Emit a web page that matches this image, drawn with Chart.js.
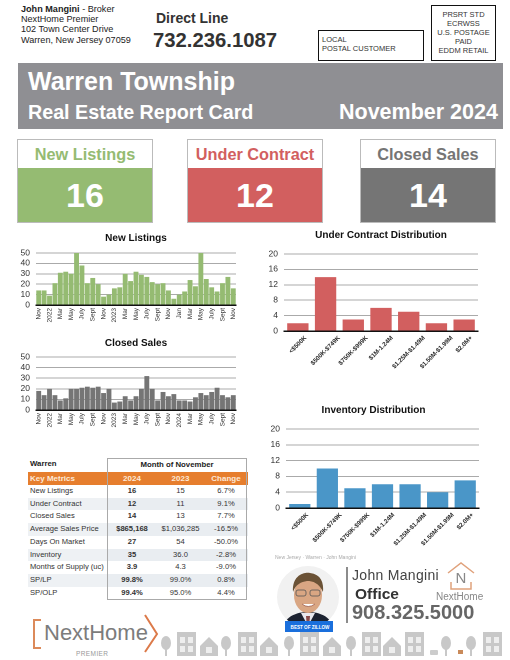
<!doctype html>
<html>
	<head>
		<meta charset="utf-8" />
		<title>Warren Township Real Estate Report Card</title>
		<script src="https://cdn.jsdelivr.net/npm/chart.js@4"></script>
		<style>
			html,
			body {
				margin: 0;
				padding: 0;
				background: #fff;
			}
			body {
				position: relative;
				width: 510px;
				height: 660px;
				overflow: hidden;
				font-family: "Liberation Sans", Arial, sans-serif;
				color: #222;
			}
			.abs,
			canvas {
				position: absolute;
			}
			.nowrap {
				white-space: nowrap;
			}
			.postal {
				border: 1px solid #111;
				box-sizing: border-box;
				font-size: 7.5px;
				line-height: 9px;
				color: #333;
			}
			.tile {
				box-sizing: border-box;
				width: 136px;
				height: 84px;
				top: 139px;
				border: 1px solid #bbb;
				text-align: center;
			}
			.tile .name {
				height: 28px;
				line-height: 28px;
				font-size: 16.3px;
				font-weight: bold;
				background: #fff;
			}
			.tile .num {
				height: 54px;
				line-height: 54px;
				font-size: 34px;
				font-weight: bold;
				color: #fff;
			}
			#metrics {
				left: 28px;
				width: 220px;
				border-collapse: collapse;
				table-layout: fixed;
				font-size: 7.6px;
				color: #333;
			}
			#metrics td {
				padding: 0;
				height: 12.7px;
				line-height: 12.7px;
				text-align: center;
				white-space: nowrap;
			}
			#metrics td:first-child {
				text-align: left;
				padding-left: 2px;
			}
			#metrics td.now {
				font-weight: bold;
			}
			#metrics tr.alt td {
				background: #e9edf1;
			}
			#metrics tr.alt td:first-child {
				background: #eef1f4;
			}
			#metrics tr.head td {
				background: #e67e2e;
				color: #fde9d8;
				font-weight: bold;
				height: 13px;
				line-height: 13px;
				font-size: 8px;
			}
			#tableBox {
				left: 107px;
				top: 458px;
				width: 140px;
				height: 142px;
				border: 1px solid #aaa;
				box-sizing: border-box;
			}
		</style>
	</head>

	<body>
		<!-- header -->
		<div class="abs nowrap" style="left: 21px; top: 4px; font-size: 9.1px; line-height: 10.2px; color: #222">
			<b>John Mangini</b> - Broker<br />NextHome Premier<br />102 Town Center Drive<br />Warren, New Jersey 07059
		</div>
		<div class="abs nowrap" style="left: 156px; top: 10px; font-size: 14px; font-weight: bold; color: #333">Direct Line</div>
		<div class="abs nowrap" style="left: 153px; top: 29px; font-size: 20.3px; font-weight: bold; color: #333">732.236.1087</div>
		<div class="abs postal nowrap" style="left: 318px; top: 30px; width: 106px; height: 31px; padding: 4px 3px">LOCAL<br />POSTAL CUSTOMER</div>
		<div class="abs postal nowrap" style="left: 431px; top: 5px; width: 65px; height: 56px; padding-top: 4px; text-align: center">PRSRT STD<br />ECRWSS<br />U.S. POSTAGE<br />PAID<br />EDDM RETAIL</div>

		<div class="abs" style="left: 18px; top: 63px; width: 485px; height: 66px; background: #8f8f93"></div>
		<div class="abs nowrap" style="left: 28px; top: 67px; font-size: 25px; font-weight: bold; color: #fff">Warren Township</div>
		<div class="abs nowrap" style="left: 28px; top: 101px; font-size: 19.7px; font-weight: bold; color: #fff">Real Estate Report Card</div>
		<div class="abs nowrap" style="left: 339px; top: 100px; font-size: 21.5px; font-weight: bold; color: #fff">November 2024</div>

		<!-- tiles -->
		<div class="abs tile" style="left: 17px"><div class="name" style="color: #95bb72">New Listings</div><div class="num" style="background: #95bb72">16</div></div>
		<div class="abs tile" style="left: 187px"><div class="name" style="color: #d25f5f">Under Contract</div><div class="num" style="background: #d25f5f">12</div></div>
		<div class="abs tile" style="left: 360px"><div class="name" style="color: #757575">Closed Sales</div><div class="num" style="background: #757575">14</div></div>

		<!-- charts -->
		<canvas id="newListingsChart" style="left: 10px; top: 230px" width="240" height="100"></canvas>
		<canvas id="closedSalesChart" style="left: 10px; top: 335px" width="240" height="100"></canvas>
		<canvas id="underContractChart" style="left: 255px; top: 227px" width="246" height="154"></canvas>
		<canvas id="inventoryChart" style="left: 255px; top: 402px" width="236" height="156"></canvas>

		<!-- metrics table -->
		<div class="abs nowrap" style="left: 30px; top: 459px; font-size: 7.8px; font-weight: bold">Warren</div>
		<div class="abs nowrap" style="left: 107px; top: 460px; width: 140px; text-align: center; font-size: 7.8px; font-weight: bold">Month of November</div>
		<table id="metrics" class="abs" style="top: 472px"></table>
		<div id="tableBox" class="abs"></div>

		<!-- agent block -->
		<div class="abs nowrap" style="left: 275px; top: 554px; font-size: 5px; color: #aaa">New Jersey &middot; Warren &middot; John Mangini</div>
		<svg class="abs" style="left: 277px; top: 566px" width="62" height="68" viewBox="0 0 62 68">
			<defs><clipPath id="photoClip"><circle cx="31" cy="31" r="31" /></clipPath></defs>
			<circle cx="31" cy="31" r="31" fill="#f1f1f1" />
			<g clip-path="url(#photoClip)">
				<path d="M6 62 C8 50 20 46 31 46 C42 46 54 50 56 62 Z" fill="#1c2230" />
				<path d="M24 47 L31 60 L38 47 Z" fill="#e8e8ee" />
				<path d="M29 50 L33 50 L32 62 L30 62 Z" fill="#8a4a4a" />
				<ellipse cx="31" cy="29" rx="14" ry="18" fill="#d9a683" />
				<path d="M16 26 C15 10 26 6 33 7 C44 8 47 17 46 26 C42 17 36 15 30 15 C24 16 19 18 16 26 Z" fill="#6b5236" />
				<rect x="19" y="24" width="10" height="6" rx="2" fill="none" stroke="#555" stroke-width="0.8" />
				<rect x="33" y="24" width="10" height="6" rx="2" fill="none" stroke="#555" stroke-width="0.8" />
				<path d="M25 38 Q31 43 38 38" fill="#fff" stroke="#9a5a4a" stroke-width="0.8" />
			</g>
			<rect x="8" y="55" width="48" height="11" fill="#1a6fdc" />
			<text x="33" y="62.5" font-size="4.6" font-weight="bold" fill="#fff" text-anchor="middle">BEST OF ZILLOW</text>
		</svg>
		<div class="abs" style="left: 346px; top: 567px; width: 2px; height: 56px; background: #8c8c8c"></div>
		<div class="abs nowrap" style="left: 352px; top: 567px; font-size: 14px; font-weight: 500; color: #444; letter-spacing: 0.3px">John Mangini</div>
		<div class="abs nowrap" style="left: 355px; top: 585px; font-size: 15.5px; font-weight: bold; color: #333">Office</div>
		<div class="abs nowrap" style="left: 352px; top: 601px; font-size: 20px; font-weight: bold; color: #666">908.325.5000</div>
		<svg class="abs" style="left: 445px; top: 560px" width="32" height="32" viewBox="0 0 32 32">
			<path d="M3 13 L16 3 L29 13" fill="none" stroke="#e0a27c" stroke-width="1.5" />
			<path d="M6 22 V29 H26 V22" fill="none" stroke="#e0a27c" stroke-width="1.5" />
			<text x="16" y="23" font-size="15" fill="#888" text-anchor="middle">N</text>
		</svg>
		<div class="abs nowrap" style="left: 436px; top: 591px; font-size: 10px; color: #888">NextHome</div>

		<!-- bottom logo -->
		<svg class="abs" style="left: 28px; top: 612px" width="135" height="42" viewBox="0 0 135 42">
			<path d="M13 8 H6 V36 H13" fill="none" stroke="#dc8a5a" stroke-width="2" />
			<path d="M117 3 L129 22 L117 40" fill="none" stroke="#dc7a4a" stroke-width="2" />
		</svg>
		<div class="abs nowrap" style="left: 44px; top: 620px; font-size: 22px; color: #7c7c7c">NextHome</div>
		<div class="abs nowrap" style="left: 76px; top: 650px; font-size: 6.5px; color: #999; letter-spacing: 0.4px">PREMIER</div>
		<svg id="street" class="abs" style="left: 160px; top: 630px" width="345" height="26"></svg>

		<script>
			const monthLabels = [
				"Nov", "Dec", "2022", "Feb", "Mar", "Apr", "May", "June", "July", "Aug", "Sept", "Oct",
				"Nov", "Dec", "2023", "Feb", "Mar", "Apr", "May", "June", "July", "Aug", "Sept", "Oct",
				"Nov", "Dec", "Jan", "Feb", "Mar", "Apr", "May", "June", "July", "Aug", "Sept", "Oct", "Nov",
			];
			const closedMonthLabels = monthLabels.map((m, i) => (i === 26 ? "2024" : m));
			const newListings = [
				14, 14, 9, 21, 31, 32, 30, 50, 38, 21, 26, 20, 8, 10, 16, 17, 30, 23, 32,
				29, 27, 22, 20, 21, 14, 6, 10, 13, 24, 18, 50, 25, 17, 13, 21, 27, 16,
			];
			const closedSales = [
				18, 14, 20, 14, 9, 11, 20, 20, 21, 22, 21, 22, 16, 20, 7, 8, 13, 9, 13,
				20, 32, 20, 9, 17, 13, 15, 9, 9, 8, 12, 16, 14, 17, 21, 14, 12, 14,
			];
			const priceBands = [
				"<$500K", "$500K-$749K", "$750K-$999K", "$1M-1.24M",
				"$1.25M-$1.49M", "$1.50M-$1.99M", "$2.0M+",
			];
			const underContract = [2, 14, 3, 6, 5, 2, 3];
			const inventory = [1, 10, 5, 6, 6, 4, 7];

			const metricNames = [
				"New Listings", "Under Contract", "Closed Sales", "Average Sales Price", "Days On Market",
				"Inventory", "Months of Supply (uc)", "SP/LP", "SP/OLP",
			];
			const metrics2024 = ["16", "12", "14", "$865,168", "27", "35", "3.9", "99.8%", "99.4%"];
			const metrics2023 = ["15", "11", "13", "$1,036,285", "54", "36.0", "4.3", "99.0%", "95.0%"];
			const metricsChange = ["6.7%", "9.1%", "7.7%", "-16.5%", "-50.0%", "-2.8%", "-9.0%", "0.8%", "4.4%"];

			// the slanted price labels sit centred under their bars, which chart.js ticks can't do
			const centeredLabels = {
				id: "centeredLabels",
				afterDraw(chart, args, opts) {
					if (!opts.on) return;
					const { ctx } = chart;
					const xScale = chart.scales.x;
					const slant = Math.SQRT1_2;
					ctx.save();
					ctx.font = "bold 6.2px 'Liberation Sans'";
					ctx.fillStyle = "#2a2a2a";
					ctx.textAlign = "center";
					ctx.textBaseline = "middle";
					chart.data.labels.forEach((label, i) => {
						const half = (ctx.measureText(label).width / 2) * slant;
						ctx.save();
						ctx.translate(xScale.getPixelForValue(i), xScale.top + 6 + half);
						ctx.rotate(-Math.PI / 4);
						ctx.fillText(label, 0, 0);
						ctx.restore();
					});
					ctx.restore();
				},
			};

			// fixed axis sizes so the plot areas land where they do in the print layout
			function barChart(id, cfg) {
				return new Chart(document.getElementById(id), {
					type: "bar",
					plugins: [centeredLabels],
					data: {
						labels: cfg.labels,
						datasets: [
							{
								data: cfg.values,
								backgroundColor: cfg.color,
								barPercentage: cfg.barPct,
								categoryPercentage: 1,
							},
						],
					},
					options: {
						responsive: false,
						animation: false,
						devicePixelRatio: 2,
						layout: { padding: { left: cfg.leftPad, right: cfg.rightPad } },
						plugins: {
							legend: { display: false },
							tooltip: { enabled: false },
							centeredLabels: { on: cfg.rotation === 45 },
							title: {
								display: true,
								text: cfg.title,
								fullSize: cfg.fullTitle,
								color: "#111",
								font: { family: "Liberation Sans", size: 10, weight: "bold" },
								padding: { top: 2, bottom: cfg.titleGap },
							},
						},
						scales: {
							x: {
								grid: { display: false, drawTicks: false },
								border: { color: "#111", width: 1.5 },
								afterFit: (s) => {
									s.height = cfg.xHeight;
								},
								ticks: {
									display: cfg.rotation === 90,
									autoSkip: false,
									minRotation: 90,
									maxRotation: 90,
									padding: 3,
									color: "#333",
									font: { family: "Liberation Sans", size: 6.5 },
									callback: function (v, i) {
										return i % 2 === 0 ? this.getLabelForValue(v) : "";
									},
								},
							},
							y: {
								min: 0,
								max: cfg.max,
								grid: { color: "#aaa", drawTicks: false },
								border: { display: false },
								afterFit: (s) => {
									s.width = cfg.yWidth;
								},
								ticks: {
									autoSkip: false,
									stepSize: cfg.step,
									padding: 6,
									color: "#333",
									font: { family: "Liberation Sans", size: 8.5 },
								},
							},
						},
					},
				});
			}

			const monthly = { rotation: 90, fullTitle: false, xHeight: 25, max: 50, step: 10, barPct: 0.9, leftPad: 0, yWidth: 26, rightPad: 14 };
			const bands = { rotation: 45, xHeight: 50, max: 20, step: 4, barPct: 0.77 };

			barChart("newListingsChart", { ...monthly, title: "New Listings", labels: monthLabels, values: newListings, color: "#95bb72", titleGap: 9 });
			barChart("closedSalesChart", { ...monthly, title: "Closed Sales", labels: closedMonthLabels, values: closedSales, color: "#757575", titleGap: 8 });
			barChart("underContractChart", { ...bands, fullTitle: false, leftPad: 0, yWidth: 29, rightPad: 23, title: "Under Contract Distribution", labels: priceBands, values: underContract, color: "#d25f5f", titleGap: 13 });
			// this title sits left of the plot centre by half the y axis width
			barChart("inventoryChart", { ...bands, fullTitle: true, leftPad: 13, yWidth: 18, rightPad: 12, title: "Inventory Distribution", labels: priceBands, values: inventory, color: "#4a96c8", titleGap: 13 });

			// metrics table
			const table = document.getElementById("metrics");
			const colgroup = [79, 50, 47, 44].map((w) => `<col style="width:${w}px">`).join("");
			const rows = metricNames.map((name, i) => {
				const cls = i % 2 === 1 ? "alt" : "";
				return `<tr class="${cls}"><td>${name}</td><td class="now">${metrics2024[i]}</td><td>${metrics2023[i]}</td><td>${metricsChange[i]}</td></tr>`;
			});
			table.innerHTML =
				colgroup +
				'<tr class="head"><td>Key Metrics</td><td>2024</td><td>2023</td><td>Change</td></tr>' +
				rows.join("");

			// row of grey houses and trees along the bottom
			const house = (x) => `<path transform="translate(${x},6)" d="M0 10 L9 1 L18 10 V20 H0 Z" fill="#c8c8c8"/><rect x="${x + 6}" y="17" width="6" height="6" fill="#eee"/>`;
			const tree = (x) => `<ellipse cx="${x + 6}" cy="13" rx="5" ry="7" fill="#c8c8c8"/><rect x="${x + 5}" y="18" width="2" height="8" fill="#c8c8c8"/>`;
			const block = (x) => `<rect x="${x}" y="2" width="19" height="24" fill="#c8c8c8"/><rect x="${x + 3}" y="7" width="5" height="6" fill="#eee"/><rect x="${x + 11}" y="7" width="5" height="6" fill="#eee"/><rect x="${x + 3}" y="16" width="5" height="6" fill="#eee"/><rect x="${x + 11}" y="16" width="5" height="6" fill="#eee"/>`;
			document.getElementById("street").innerHTML = [
				tree(0), block(17), house(40), tree(60), block(78), house(100), tree(123), block(140),
				house(163), tree(185), block(202), house(223), block(245),
				'<rect x="270" y="20" width="8" height="5" rx="1" fill="#ccc"/>',
				tree(280), '<rect x="298" y="20" width="5" height="4" fill="#c98a5a"/>', tree(305), block(323),
			].join("");
		</script>
	</body>
</html>
